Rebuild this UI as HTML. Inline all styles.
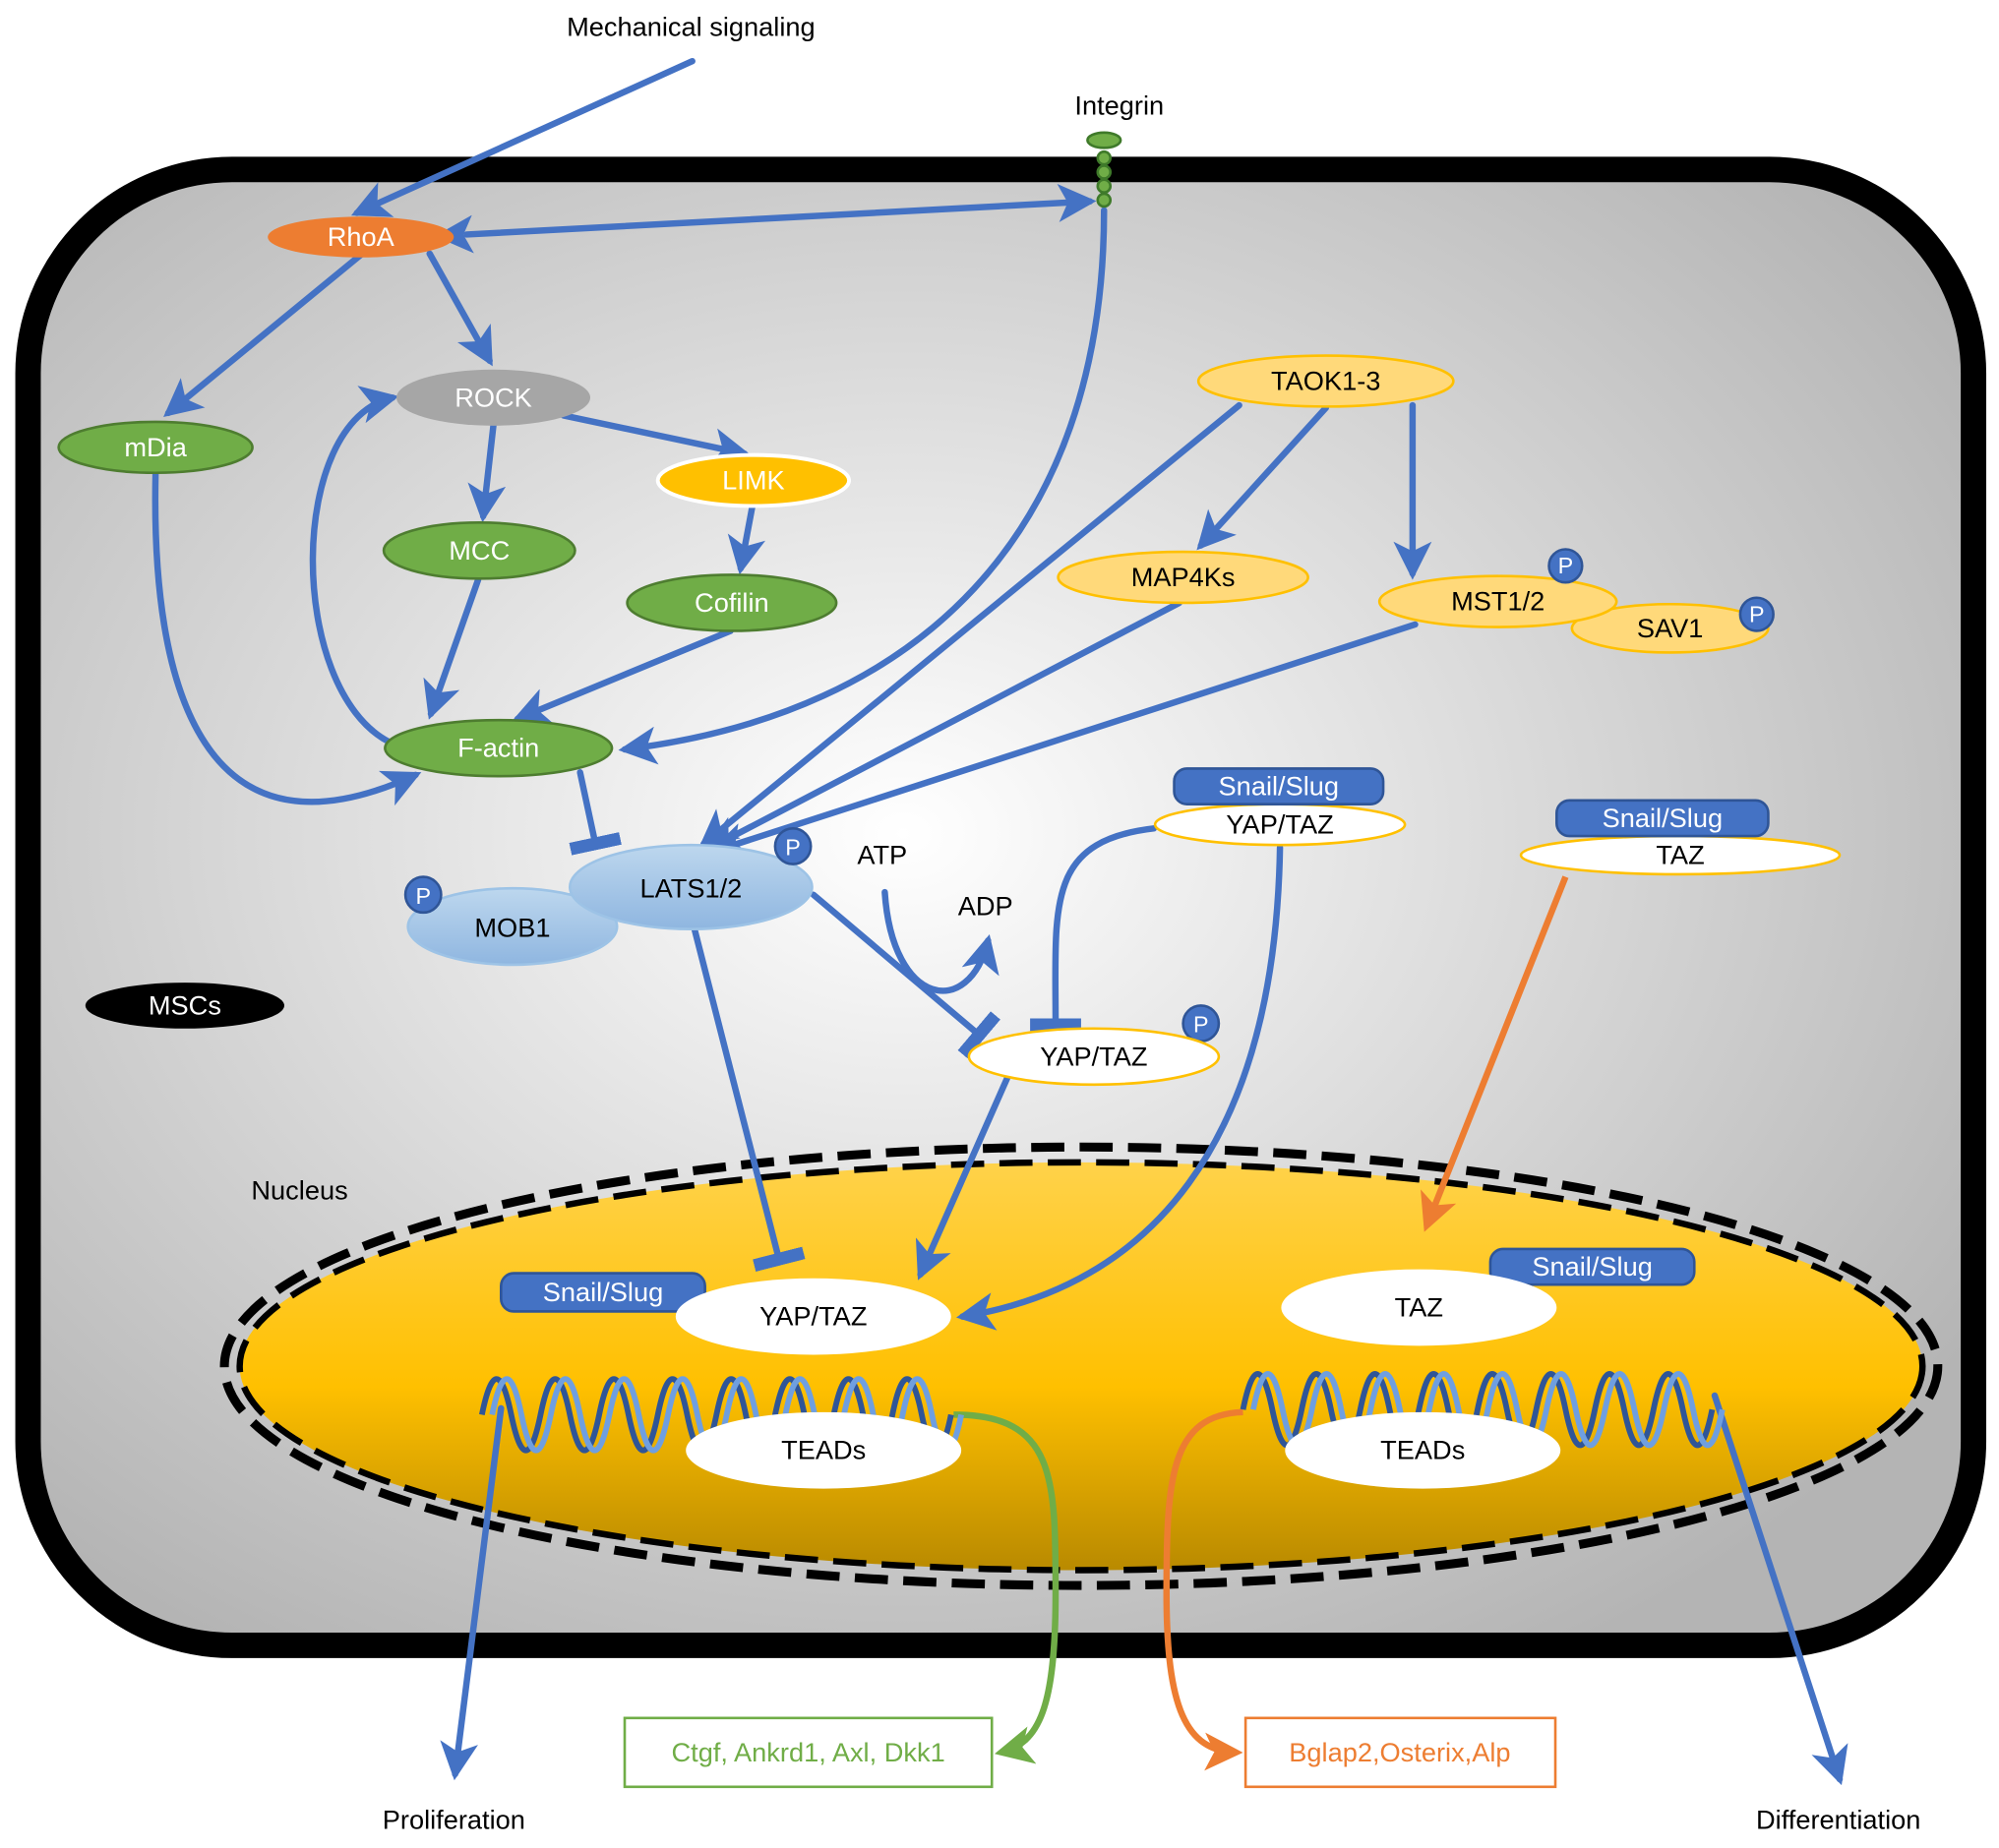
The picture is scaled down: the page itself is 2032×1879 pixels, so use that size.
<!DOCTYPE html>
<html><head><meta charset="utf-8"><style>html,body{margin:0;padding:0;background:#fff}svg{display:block}text{font-family:"Liberation Sans",sans-serif}</style></head><body>
<svg width="2032" height="1879" viewBox="0 0 1568 1450" preserveAspectRatio="none" xmlns="http://www.w3.org/2000/svg">
<defs>
<radialGradient id="cell" cx="0.45" cy="0.45" r="0.65"><stop offset="0" stop-color="#ffffff"/><stop offset="1" stop-color="#b4b4b4"/></radialGradient>
<linearGradient id="nuc" x1="0" y1="0" x2="0" y2="1"><stop offset="0" stop-color="#ffd24a"/><stop offset="0.55" stop-color="#ffc000"/><stop offset="1" stop-color="#b98a00"/></linearGradient>
<linearGradient id="lats" x1="0" y1="0" x2="0" y2="1"><stop offset="0" stop-color="#bdd7ee"/><stop offset="1" stop-color="#8fb6e0"/></linearGradient>
<marker id="ab" markerWidth="6" markerHeight="6" refX="5" refY="3" orient="auto" markerUnits="strokeWidth"><path d="M0,0 L6,3 L0,6 L1.5,3z" fill="#4472c4"/></marker>
<marker id="abs" markerWidth="6" markerHeight="6" refX="1" refY="3" orient="auto-start-reverse" markerUnits="strokeWidth"><path d="M0,0 L6,3 L0,6 L1.5,3z" fill="#4472c4"/></marker>
<marker id="ag" markerWidth="6" markerHeight="6" refX="5" refY="3" orient="auto" markerUnits="strokeWidth"><path d="M0,0 L6,3 L0,6 L1.5,3z" fill="#70ad47"/></marker>
<marker id="ao" markerWidth="6" markerHeight="6" refX="5" refY="3" orient="auto" markerUnits="strokeWidth"><path d="M0,0 L6,3 L0,6 L1.5,3z" fill="#ed7d31"/></marker>
<marker id="tb" markerWidth="2" markerHeight="8" refX="1" refY="4" orient="auto" markerUnits="strokeWidth"><rect x="0" y="0" width="2" height="8" fill="#4472c4"/></marker>
</defs>
<rect x="0" y="0" width="1568" height="1450" fill="#fff"/>
<rect x="22" y="133" width="1526" height="1158" rx="160" ry="160" fill="url(#cell)" stroke="#000" stroke-width="20"/>
<ellipse cx="848" cy="1072" rx="672" ry="172" fill="none" stroke="#000" stroke-width="7" stroke-dasharray="26,12"/>
<ellipse cx="848" cy="1072" rx="660" ry="160" fill="url(#nuc)" stroke="#000" stroke-width="5" stroke-dasharray="26,12"/>

<g fill="none" stroke="#4472c4" stroke-width="5" stroke-linecap="round">
<line x1="543" y1="48" x2="280" y2="167" marker-end="url(#ab)"/>
<line x1="366" y1="184" x2="855" y2="158" marker-end="url(#ab)" marker-start="url(#abs)"/>
<path d="M866,165 C866,420 720,560 490,588" marker-end="url(#ab)"/>
<line x1="972" y1="318" x2="552" y2="662" marker-end="url(#ab)"/>
<line x1="1040" y1="320" x2="942" y2="428" marker-end="url(#ab)"/>
<line x1="1108" y1="318" x2="1108" y2="450" marker-end="url(#ab)"/>
<line x1="925" y1="473" x2="556" y2="666" marker-end="url(#ab)"/>
<line x1="1110" y1="490" x2="560" y2="668" marker-end="url(#ab)"/>
<line x1="337" y1="199" x2="384" y2="283" marker-end="url(#ab)"/>
<line x1="283" y1="200" x2="132" y2="324" marker-end="url(#ab)"/>
<line x1="387" y1="334" x2="379" y2="405" marker-end="url(#ab)"/>
<line x1="442" y1="326" x2="584" y2="356" marker-end="url(#ab)"/>
<line x1="590" y1="398" x2="581" y2="446" marker-end="url(#ab)"/>
<line x1="375" y1="455" x2="338" y2="560" marker-end="url(#ab)"/>
<line x1="573" y1="495" x2="406" y2="564" marker-end="url(#ab)"/>
<path d="M305,582 C225,540 225,330 308,312" marker-end="url(#ab)"/>
<path d="M122,372 C118,560 170,680 326,608" marker-end="url(#ab)"/>
<line x1="455" y1="606" x2="467" y2="662" marker-end="url(#tb)"/>
<line x1="638" y1="702" x2="768" y2="812" marker-end="url(#tb)"/>
<path d="M694,700 C700,790 760,800 775,738" marker-end="url(#ab)"/>
<path d="M905,650 C820,660 828,710 828,804" marker-end="url(#tb)"/>
<line x1="545" y1="730" x2="611" y2="988" marker-end="url(#tb)"/>
<line x1="790" y1="846" x2="722" y2="1000" marker-end="url(#ab)"/>
<path d="M1004,665 C1000,900 900,1010 755,1033" marker-end="url(#ab)"/>
<line x1="393" y1="1105" x2="357" y2="1392" marker-end="url(#ab)"/>
<line x1="1345" y1="1095" x2="1443" y2="1396" marker-end="url(#ab)"/>
</g>
<line x1="1228" y1="688" x2="1119" y2="962" stroke="#ed7d31" stroke-width="5" marker-end="url(#ao)"/>
<path d="M748,1110 C828,1110 828,1160 828,1250 C828,1340 815,1368 785,1375" fill="none" stroke="#70ad47" stroke-width="5" marker-end="url(#ag)"/>
<path d="M975,1108 C918,1110 915,1160 915,1250 C915,1340 930,1374 970,1375" fill="none" stroke="#ed7d31" stroke-width="5" marker-end="url(#ao)"/>

<g fill="none" stroke-width="4.5">
<path stroke="#2f5597" d="M378,1110 q11.5,-56 23,0 t23,0 t23,0 t23,0 t23,0 t23,0 t23,0 t23,0 t23,0 t23,0 t23,0 t23,0 t23,0 t23,0 t23,0 t23,0"/>
<path stroke="#6f9fe0" d="M386,1110 q11.5,-56 23,0 t23,0 t23,0 t23,0 t23,0 t23,0 t23,0 t23,0 t23,0 t23,0 t23,0 t23,0 t23,0 t23,0 t23,0 t23,0"/>
<path stroke="#2f5597" d="M975,1106 q11.5,-56 23,0 t23,0 t23,0 t23,0 t23,0 t23,0 t23,0 t23,0 t23,0 t23,0 t23,0 t23,0 t23,0 t23,0 t23,0 t23,0"/>
<path stroke="#6f9fe0" d="M983,1106 q11.5,-56 23,0 t23,0 t23,0 t23,0 t23,0 t23,0 t23,0 t23,0 t23,0 t23,0 t23,0 t23,0 t23,0 t23,0 t23,0 t23,0"/>
</g>

<g fill="#70ad47" stroke="#3f7a2a" stroke-width="2">
<ellipse cx="866" cy="110" rx="13" ry="6"/><ellipse cx="866" cy="124" rx="5" ry="5"/><ellipse cx="866" cy="135" rx="5" ry="5"/><ellipse cx="866" cy="146" rx="5" ry="5"/><ellipse cx="866" cy="157" rx="5" ry="5"/>
</g>

<g font-size="21" text-anchor="middle">
<ellipse cx="283" cy="186" rx="73" ry="16" fill="#ed7d31"/><text x="283" y="193" fill="#fff">RhoA</text>
<ellipse cx="387" cy="312" rx="76" ry="22" fill="#a6a6a6"/><text x="387" y="319" fill="#fff">ROCK</text>
<g fill="#70ad47" stroke="#4e7d30" stroke-width="2">
<ellipse cx="122" cy="351" rx="76" ry="20"/><ellipse cx="376" cy="432" rx="75" ry="22"/><ellipse cx="574" cy="473" rx="82" ry="22"/><ellipse cx="391" cy="587" rx="89" ry="22"/></g>
<text x="122" y="358" fill="#fff">mDia</text><text x="376" y="439" fill="#fff">MCC</text><text x="574" y="480" fill="#fff">Cofilin</text><text x="391" y="594" fill="#fff">F-actin</text>
<ellipse cx="591" cy="377" rx="75" ry="20" fill="#ffc000" stroke="#fff" stroke-width="3"/><text x="591" y="384" fill="#fff">LIMK</text>
<g fill="#ffd97a" stroke="#ffc000" stroke-width="2">
<ellipse cx="1040" cy="299" rx="100" ry="20"/><ellipse cx="928" cy="453" rx="98" ry="20"/><ellipse cx="1310" cy="493" rx="77" ry="19"/><ellipse cx="1175" cy="472" rx="93" ry="20"/></g>
<text x="1040" y="306">TAOK1-3</text><text x="928" y="460">MAP4Ks</text><text x="1175" y="479">MST1/2</text><text x="1310" y="500">SAV1</text>
<ellipse cx="402" cy="727" rx="82" ry="30" fill="url(#lats)" stroke="#9dc3e6" stroke-width="2"/><text x="402" y="735">MOB1</text>
<ellipse cx="542" cy="696" rx="95" ry="33" fill="url(#lats)" stroke="#9dc3e6" stroke-width="2"/><text x="542" y="704">LATS1/2</text>
<ellipse cx="145" cy="789" rx="78" ry="18" fill="#000"/><text x="145" y="796" fill="#fff">MSCs</text>
<g fill="#4472c4" stroke="#2f5597" stroke-width="2">
<circle cx="1228" cy="444" r="13"/><circle cx="1378" cy="482" r="13"/><circle cx="622" cy="664" r="14"/><circle cx="332" cy="702" r="14"/><circle cx="942" cy="803" r="14"/></g>
<g fill="#fff" font-size="18"><text x="1228" y="450">P</text><text x="1378" y="488">P</text><text x="622" y="671">P</text><text x="332" y="709">P</text><text x="942" y="810">P</text></g>
<g fill="#fff" stroke="#ffc000" stroke-width="2">
<ellipse cx="1004" cy="647" rx="98" ry="16"/><ellipse cx="1318" cy="671" rx="125" ry="15"/><ellipse cx="858" cy="829" rx="98" ry="22"/></g>
<g fill="#4472c4" stroke="#2f5597" stroke-width="2">
<rect x="921" y="603" width="164" height="28" rx="10"/><rect x="1221" y="628" width="166" height="28" rx="10"/><rect x="393" y="999" width="160" height="30" rx="10"/><rect x="1169" y="980" width="160" height="28" rx="10"/></g>
<g fill="#fff"><text x="1003" y="624">Snail/Slug</text><text x="1304" y="649">Snail/Slug</text><text x="473" y="1021">Snail/Slug</text><text x="1249" y="1001">Snail/Slug</text></g>
<text x="1004" y="654">YAP/TAZ</text><text x="1318" y="678">TAZ</text><text x="858" y="836">YAP/TAZ</text>
<g fill="#fff"><ellipse cx="638" cy="1033" rx="108" ry="30"/><ellipse cx="1113" cy="1026" rx="108" ry="30"/><ellipse cx="646" cy="1138" rx="108" ry="30"/><ellipse cx="1116" cy="1138" rx="108" ry="30"/></g>
<text x="638" y="1040">YAP/TAZ</text><text x="1113" y="1033">TAZ</text><text x="646" y="1145">TEADs</text><text x="1116" y="1145">TEADs</text>
<rect x="490" y="1348" width="288" height="54" fill="#fff" stroke="#70ad47" stroke-width="2"/><text x="634" y="1382" fill="#70ad47">Ctgf, Ankrd1, Axl, Dkk1</text>
<rect x="977" y="1348" width="243" height="54" fill="#fff" stroke="#ed7d31" stroke-width="2"/><text x="1098" y="1382" fill="#ed7d31">Bglap2,Osterix,Alp</text>
<text x="542" y="28">Mechanical signaling</text><text x="878" y="90">Integrin</text>
<text x="692" y="678">ATP</text><text x="773" y="718">ADP</text><text x="235" y="941">Nucleus</text>
<text x="356" y="1435">Proliferation</text><text x="1442" y="1435">Differentiation</text>
</g>
</svg>
</body></html>
